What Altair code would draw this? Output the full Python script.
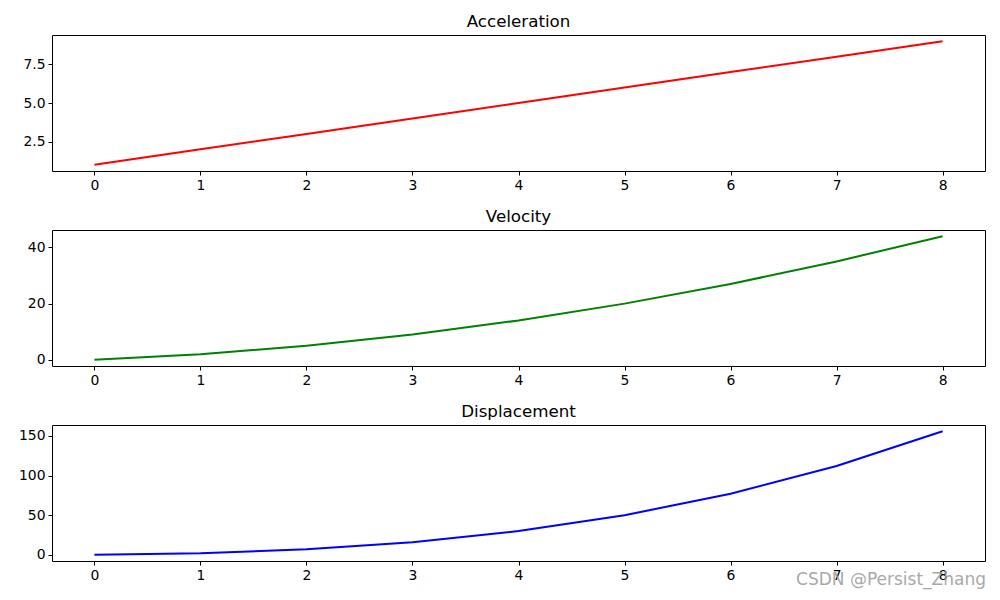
import altair as alt
import pandas as pd

x_vals = [0, 1, 2, 3, 4, 5, 6, 7, 8]
acceleration = [1, 2, 3, 4, 5, 6, 7, 8, 9]
velocity = [0, 2, 5, 9, 14, 20, 27, 35, 44]
displacement = [0, 2, 7, 16, 30, 50, 77, 112, 156]

titles = ["Acceleration", "Velocity", "Displacement"]
colors = ["#ff0000", "#008000", "#0000ff"]
y_domains = [[0.6, 9.4], [-2.2, 46.2], [-7.8, 163.8]]
y_ticks = [[2.5, 5.0, 7.5], [0, 20, 40], [0, 50, 100, 150]]
y_formats = [".1f", "d", "d"]
series = [acceleration, velocity, displacement]

W, H = 933, 136

panels = []
for i in range(3):
    df = pd.DataFrame({"x": x_vals, "y": series[i]})
    line = alt.Chart(df).mark_line(color=colors[i], strokeWidth=2, clip=True).encode(
        x=alt.X("x:Q", scale=alt.Scale(domain=[-0.4, 8.4], nice=False, zero=False),
                axis=alt.Axis(values=x_vals, format="d", title=None)),
        y=alt.Y("y:Q", scale=alt.Scale(domain=y_domains[i], nice=False, zero=False),
                axis=alt.Axis(values=y_ticks[i], format=y_formats[i], title=None)),
    )
    layer = line
    if i == 2:
        wm = alt.Chart(pd.DataFrame({"t": ["CSDN @Persist_Zhang"]})).mark_text(
            align="right", baseline="middle", fontSize=17, color="#9a9a9a",
            opacity=0.85, font="DejaVu Sans"
        ).encode(text="t:N", x=alt.value(W + 1), y=alt.value(155))
        layer = alt.layer(line, wm)
    panels.append(layer.properties(width=W, height=H,
                                   title=alt.TitleParams(titles[i], fontSize=16.7, fontWeight="normal",
                                                         font="DejaVu Sans", offset=4, color="black")))

chart = alt.vconcat(*panels, spacing=59, bounds="flush").properties(
    padding={"left": 17, "top": 13, "right": 10, "bottom": 10},
).configure(
    background="white",
).configure_view(
    stroke="black", strokeWidth=1
).configure_axis(
    grid=False,
    domain=False,
    tickColor="black",
    tickSize=4,
    tickWidth=1,
    labelFont="DejaVu Sans",
    labelFontSize=13.9,
    labelColor="black",
    labelPadding=3,
)

chart.save("out.html", embed_options={"renderer": "svg", "actions": False})
